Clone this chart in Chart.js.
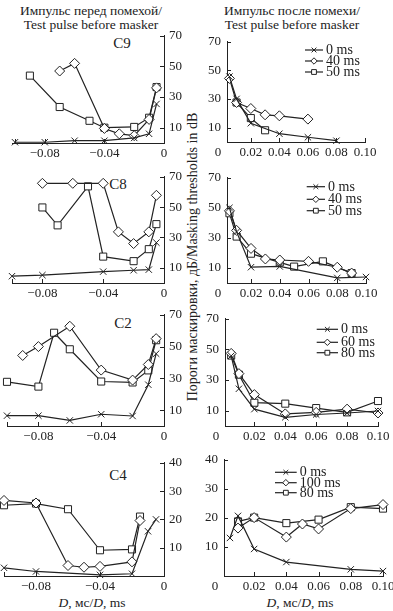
<!DOCTYPE html>
<html>
<head>
<meta charset="utf-8">
<script src="https://cdn.jsdelivr.net/npm/chart.js@4.4.1/dist/chart.umd.min.js"></script>
<style>
  body { margin: 0; background: #fff; }
  #page { position: relative; width: 393px; height: 611px; overflow: hidden; font-family: "Liberation Serif", serif; color: #222; }
  #page canvas { position: absolute; }
  .txt { position: absolute; white-space: nowrap; font-size: 13.5px; line-height: 1; transform: translate(-50%, -50%); }
  .lbl { font-size: 15px; }
  .ytitle { transform: translate(-50%, -50%) rotate(-90deg); font-size: 14px; }
</style>
</head>
<body>
<div id="page">
  <div class="txt" style="left:91px;top:11px">Импульс перед помехой/</div>
  <div class="txt" style="left:91px;top:25px">Test pulse before masker</div>
  <div class="txt" style="left:292px;top:11px">Импульс после помехи/</div>
  <div class="txt" style="left:292px;top:25px">Test pulse before masker</div>
  <div class="txt lbl" style="left:122px;top:43px">C9</div>
  <div class="txt lbl" style="left:118px;top:184px">C8</div>
  <div class="txt lbl" style="left:123px;top:323px">C2</div>
  <div class="txt lbl" style="left:118px;top:475px">C4</div>
  <div class="txt ytitle" style="left:193px;top:257px">Пороги маскировки, дБ/Masking thresholds in dB</div>
  <div class="txt" style="left:92px;top:603px"><i>D</i>, мс/<i>D</i>, ms</div>
  <div class="txt" style="left:300px;top:603px"><i>D</i>, мс/<i>D</i>, ms</div>
</div>
<script>
// --- data: left column (test pulse before masker), x = D in ms ---
const c9Time0 = [-0.1, -0.08, -0.06, -0.04, -0.02, -0.01, -0.005];
const c9Val0 = [0.5, 0.5, 1.5, 1.5, 3.3, 6, 25.5];
const c9Time1 = [-0.07, -0.06, -0.04, -0.03, -0.02, -0.01, -0.005];
const c9Val1 = [47, 52, 9.5, 6, 4.8, 15.4, 36];
const c9Time2 = [-0.09, -0.07, -0.05, -0.04, -0.02, -0.01, -0.005];
const c9Val2 = [44, 23.5, 14.5, 10, 10.5, 16.5, 36.5];

const c8Time0 = [-0.1, -0.08, -0.04, -0.02, -0.01, -0.005];
const c8Val0 = [4.5, 5.2, 7.5, 8.4, 8.8, 26.6];
const c8Time1 = [-0.08, -0.06, -0.04, -0.03, -0.02, -0.01, -0.005];
const c8Val1 = [65.7, 65.7, 65.7, 33.7, 26, 33.7, 57.8];
const c8Time2 = [-0.08, -0.07, -0.05, -0.04, -0.02, -0.01, -0.005];
const c8Val2 = [49.8, 38, 63.7, 17.4, 14.4, 22.3, 38.8];

const c2Time0 = [-0.1, -0.08, -0.06, -0.04, -0.02, -0.01, -0.005];
const c2Val0 = [6.5, 6.5, 3.5, 7.4, 6.3, 26, 45.5];
const c2Time1 = [-0.09, -0.08, -0.06, -0.04, -0.02, -0.01, -0.005];
const c2Val1 = [44.4, 50, 62.8, 35.2, 28.9, 38.7, 55];
const c2Time2 = [-0.1, -0.08, -0.07, -0.06, -0.04, -0.02, -0.01, -0.005];
const c2Val2 = [27.8, 24.8, 58.7, 48.3, 28, 27.4, 35, 54];

const c4Time0 = [-0.1, -0.08, -0.04, -0.02, -0.01, -0.005];
const c4Val0 = [2.9, 1.6, 0.4, 0.8, 15.8, 20];
const c4Time1 = [-0.1, -0.08, -0.06, -0.05, -0.04, -0.02, -0.015];
const c4Val1 = [26.7, 25.8, 3.7, 3.1, 3.4, 5, 19.6];
const c4Time2 = [-0.1, -0.08, -0.06, -0.04, -0.02, -0.015];
const c4Val2 = [25, 25.6, 23.6, 9.1, 9.4, 21];

// --- data: right column (test pulse after masker) ---
const r1Time0 = [0.005, 0.01, 0.02, 0.04, 0.06, 0.08];
const r1Val0 = [45.7, 30.1, 13.1, 5.8, 3.3, 0.9];
const r1Time1 = [0.005, 0.01, 0.02, 0.03, 0.04, 0.06];
const r1Val1 = [44.4, 27.6, 23.4, 19, 18.3, 16];
const r1Time2 = [0.01, 0.02, 0.03];
const r1Val2 = [27.6, 16.7, 8.2];

const r2Time0 = [0.005, 0.01, 0.02, 0.04, 0.08, 0.1];
const r2Val0 = [50, 34, 10.5, 11, 3.4, 4];
const r2Time1 = [0.005, 0.01, 0.02, 0.03, 0.04, 0.06, 0.08, 0.09];
const r2Val1 = [48, 35, 23, 16, 15.3, 14.4, 10.5, 6.6];
const r2Time2 = [0.005, 0.01, 0.02, 0.04, 0.05, 0.07, 0.09];
const r2Val2 = [46.4, 30.9, 19.5, 13.7, 10.9, 14.4, 6.6];

const r3Time0 = [0.005, 0.01, 0.02, 0.04, 0.06, 0.08, 0.1];
const r3Val0 = [45.8, 24.3, 11, 5.7, 7.5, 8.5, 9.8];
const r3Time1 = [0.005, 0.01, 0.02, 0.04, 0.06, 0.08, 0.1];
const r3Val1 = [47.4, 34.2, 20.5, 7.9, 8.9, 11, 8.5];
const r3Time2 = [0.005, 0.01, 0.02, 0.04, 0.06, 0.08, 0.1];
const r3Val2 = [46, 33.5, 15.2, 14.6, 11.7, 8.9, 16.3];

const r4Time0 = [0.005, 0.01, 0.02, 0.04, 0.08, 0.1];
const r4Val0 = [13.1, 20.7, 9.3, 4.8, 2.3, 1.7];
const r4Time1 = [0.01, 0.02, 0.04, 0.05, 0.06, 0.08, 0.1];
const r4Val1 = [16.5, 20.1, 13.4, 17.9, 16.2, 23.2, 24.6];
const r4Time2 = [0.01, 0.02, 0.04, 0.06, 0.08, 0.1];
const r4Val2 = [18.8, 20.1, 18.2, 19.4, 23.7, 23.2];

const names1 = ['0 ms', '40 ms', '50 ms'];
const names2 = ['0 ms', '40 ms', '50 ms'];
const names3 = ['0 ms', '60 ms', '80 ms'];
const names4 = ['0 ms', '100 ms', '80 ms'];

const leftTicks = [-0.1, -0.08, -0.04, 0];
const rightTicks = [0.02, 0.04, 0.06, 0.08, 0.1];
const ticks70 = [10, 20, 30, 40, 50, 60, 70];
const ticks40 = [10, 20, 30, 40];

const INK = '#222';
const FONT = '"Liberation Serif", serif';
const marks = ['crossRot', 'rectRot', 'rect'];

// small marker for the legend samples
function mark(ctx, style, x, y, r) {
  ctx.beginPath();
  if (style === 'crossRot') {
    const d = r * 0.75;
    ctx.moveTo(x - d, y - d); ctx.lineTo(x + d, y + d);
    ctx.moveTo(x + d, y - d); ctx.lineTo(x - d, y + d);
  } else if (style === 'rectRot') {
    ctx.moveTo(x, y - r); ctx.lineTo(x + r, y); ctx.lineTo(x, y + r); ctx.lineTo(x - r, y);
    ctx.closePath(); ctx.fill();
  } else {
    const s = r * 0.75;
    ctx.rect(x - s, y - s, 2 * s, 2 * s); ctx.fill();
  }
  ctx.stroke();
}

// inward tick marks, the corner "0" and the legend
const decor = {
  id: 'decor',
  afterDraw(chart, args, o) {
    const ctx = chart.ctx, a = chart.chartArea;
    const xs = chart.scales.x, ys = chart.scales.y;
    ctx.save();
    ctx.strokeStyle = INK; ctx.lineWidth = 1;
    ctx.beginPath();
    xs.ticks.forEach(t => {
      const p = Math.round(xs.getPixelForValue(t.value)) + 0.5;
      ctx.moveTo(p, a.bottom); ctx.lineTo(p, a.bottom - 4);
    });
    const onRight = ys.options.position === 'right';
    const ax = onRight ? a.right : a.left;
    ys.ticks.forEach(t => {
      const p = Math.round(ys.getPixelForValue(t.value)) + 0.5;
      ctx.moveTo(ax, p); ctx.lineTo(onRight ? ax - 4 : ax + 4, p);
    });
    ctx.stroke();

    ctx.fillStyle = INK;
    if (o.zero) {
      ctx.font = '13px ' + FONT; ctx.textAlign = 'center'; ctx.textBaseline = 'middle';
      ctx.fillText('0', a.left - 9, a.bottom + 10.5);
    }
    if (o.legend) {
      const L = o.legend;
      ctx.font = '14px ' + FONT; ctx.textAlign = 'left'; ctx.textBaseline = 'middle';
      L.names.forEach((name, i) => {
        const y = L.ys[i] - o.top, x1 = L.x1 - o.left, x2 = L.x2 - o.left;
        ctx.lineWidth = 1.2;
        ctx.beginPath(); ctx.moveTo(x1, y); ctx.lineTo(x2, y); ctx.stroke();
        ctx.fillStyle = '#fff'; ctx.lineWidth = 1;
        mark(ctx, marks[i], (x1 + x2) / 2, y, 3.2);
        ctx.fillStyle = INK;
        ctx.fillText(name, x2 + 3, y + 0.5);
      });
    }
    ctx.restore();
  }
};

function panel(p) {
  const right = p.right;
  const padT = 10, padB = 2, yW = 26, xH = 22;
  const padL = right ? 2 : 8;
  const padR = right ? 16 : 2;
  const left = Math.round(p.box.l - (right ? padL + yW : padL));
  const top = Math.round(p.box.t - padT);
  const w = Math.round(p.box.r) - left + padR + (right ? 0 : yW);
  const h = Math.round(p.box.b) - top + padB + xH;

  const cv = document.createElement('canvas');
  cv.width = w; cv.height = h;
  cv.style.left = left + 'px'; cv.style.top = top + 'px';
  document.getElementById('page').appendChild(cv);

  const datasets = p.series.map((s, i) => ({
    data: s[0].map((x, k) => ({ x: x, y: s[1][k] })),
    borderColor: INK,
    borderWidth: 1.2,
    pointStyle: marks[i],
    pointRadius: i === 0 ? 4.5 : 5,
    pointBackgroundColor: '#fff',
    pointBorderColor: INK,
    pointBorderWidth: 1,
    tension: 0,
    clip: false
  }));

  const tickFont = { family: FONT, size: 13 };
  new Chart(cv.getContext('2d'), {
    type: 'line',
    data: { datasets },
    plugins: [decor],
    options: {
      responsive: false,
      animation: false,
      devicePixelRatio: 1,
      layout: { padding: { left: padL, right: padR, top: padT, bottom: padB } },
      plugins: {
        legend: { display: false },
        tooltip: { enabled: false },
        decor: { zero: right, legend: p.legend, left: left, top: top }
      },
      scales: {
        x: {
          type: 'linear', min: p.xr[0], max: p.xr[1],
          grid: { display: false, drawTicks: false },
          border: { display: true, color: INK, width: 1 },
          afterBuildTicks: s => { s.ticks = p.xTicks.map(v => ({ value: v })); },
          afterFit: s => { s.height = xH; },
          ticks: {
            autoSkip: false, maxRotation: 0, padding: 3, color: INK, font: tickFont,
            callback: v => {
              if (right) return v.toFixed(2);
              if (v === 0) return '0';
              if (v <= -0.1) return '';
              return '\u2212' + Math.abs(v).toFixed(2);
            }
          }
        },
        y: {
          position: right ? 'left' : 'right',
          min: p.yr[0], max: p.yr[1],
          grid: { display: false, drawTicks: false },
          border: { display: true, color: INK, width: 1 },
          afterBuildTicks: s => { s.ticks = p.yTicks.map(v => ({ value: v })); },
          afterFit: s => { s.width = yW; },
          ticks: { padding: right ? 6 : 5, color: INK, font: tickFont, callback: v => String(v) }
        }
      }
    }
  });
}

// left column
panel({ box: { l: 12, t: 33, r: 163.5, b: 142.5 }, xr: [-0.102, 0], yr: [0, 70], right: false,
  xTicks: leftTicks, yTicks: ticks70,
  series: [[c9Time0, c9Val0], [c9Time1, c9Val1], [c9Time2, c9Val2]] });
panel({ box: { l: 12, t: 174.3, r: 163.5, b: 283 }, xr: [-0.1, 0], yr: [0, 70], right: false,
  xTicks: leftTicks, yTicks: ticks70,
  series: [[c8Time0, c8Val0], [c8Time1, c8Val1], [c8Time2, c8Val2]] });
panel({ box: { l: 7, t: 312.3, r: 163.5, b: 426.3 }, xr: [-0.1, 0], yr: [0, 70], right: false,
  xTicks: leftTicks, yTicks: ticks70,
  series: [[c2Time0, c2Val0], [c2Time1, c2Val1], [c2Time2, c2Val2]] });
panel({ box: { l: 4, t: 460, r: 163.5, b: 575.5 }, xr: [-0.1, 0], yr: [0, 40], right: false,
  xTicks: leftTicks, yTicks: ticks40,
  series: [[c4Time0, c4Val0], [c4Time1, c4Val1], [c4Time2, c4Val2]] });

// right column
panel({ box: { l: 226.7, t: 37.7, r: 365, b: 142.3 }, xr: [0.0033, 0.1], yr: [0, 70], right: true,
  xTicks: rightTicks, yTicks: ticks70,
  legend: { names: names1, x1: 305, x2: 323, ys: [50, 61, 72] },
  series: [[r1Time0, r1Val0], [r1Time1, r1Val1], [r1Time2, r1Val2]] });
panel({ box: { l: 226.7, t: 174.3, r: 366, b: 283 }, xr: [0.0033, 0.1], yr: [0, 70], right: true,
  xTicks: rightTicks, yTicks: ticks70,
  legend: { names: names2, x1: 306.7, x2: 325, ys: [186.7, 199.3, 210.7] },
  series: [[r2Time0, r2Val0], [r2Time1, r2Val1], [r2Time2, r2Val2]] });
panel({ box: { l: 225, t: 315, r: 378, b: 426 }, xr: [0.001, 0.1], yr: [0, 70], right: true,
  xTicks: rightTicks, yTicks: ticks70,
  legend: { names: names3, x1: 316.7, x2: 338, ys: [329.3, 342.3, 352.7] },
  series: [[r3Time0, r3Val0], [r3Time1, r3Val1], [r3Time2, r3Val2]] });
panel({ box: { l: 224.3, t: 455.7, r: 382.5, b: 575.5 }, xr: [0.0013, 0.1], yr: [0, 40], right: true,
  xTicks: rightTicks, yTicks: ticks40,
  legend: { names: names4, x1: 275, x2: 296.7, ys: [472.3, 482.7, 492.7] },
  series: [[r4Time0, r4Val0], [r4Time1, r4Val1], [r4Time2, r4Val2]] });
</script>
</body>
</html>
